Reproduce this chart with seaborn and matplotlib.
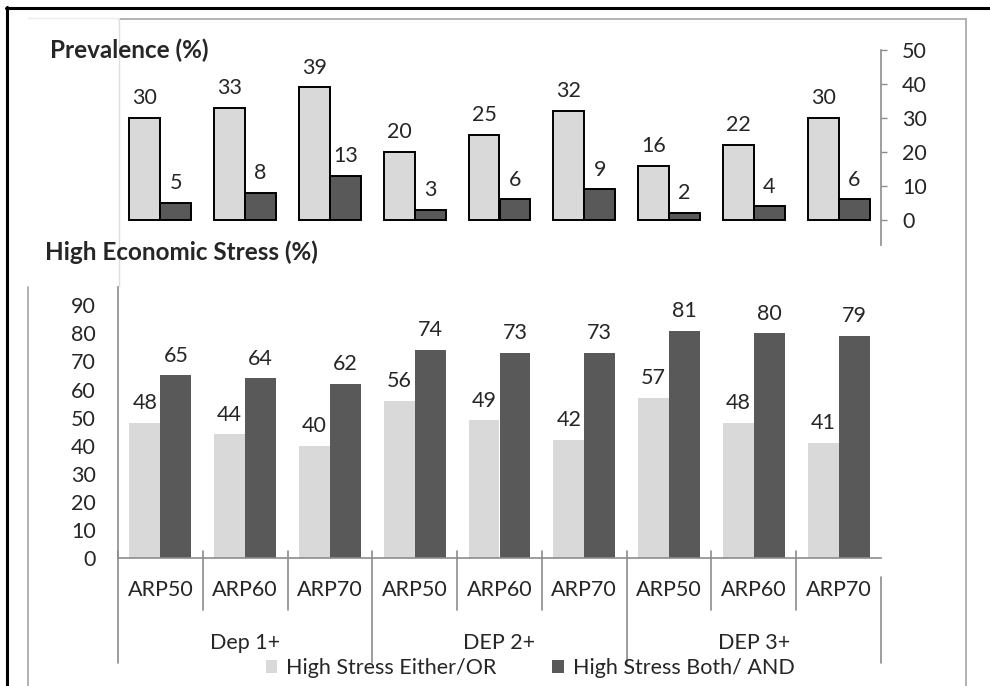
import matplotlib
matplotlib.use('Agg')
import matplotlib.pyplot as plt
import matplotlib.transforms as mtransforms
from matplotlib.lines import Line2D
import pandas as pd
import seaborn as sns

groups = ['Dep 1+', 'DEP 2+', 'DEP 3+']
thresholds = ['ARP50', 'ARP60', 'ARP70']
series = ['High Stress Either/OR', 'High Stress Both/ AND']

prev_either = [30, 33, 39, 20, 25, 32, 16, 22, 30]
prev_both = [5, 8, 13, 3, 6, 9, 2, 4, 6]
stress_either = [48, 44, 40, 56, 49, 42, 57, 48, 41]
stress_both = [65, 64, 62, 74, 73, 73, 81, 80, 79]

light = '#d9d9d9'
dark = '#595959'
axis_gray = '#8c8c8c'
fs = 15.5

sns.set_style('white')
plt.rcParams['font.family'] = ['Lato', 'DejaVu Sans']

cats = [f'{g}|{t}' for g in groups for t in thresholds]


def make_df(either, both):
    rows = []
    for c, a, b in zip(cats, either, both):
        rows.append({'cat': c, 'series': series[0], 'value': a})
        rows.append({'cat': c, 'series': series[1], 'value': b})
    return pd.DataFrame(rows)


prev_df = make_df(prev_either, prev_both)
stress_df = make_df(stress_either, stress_both)

W, H = 990, 686
fig = plt.figure(figsize=(W / 100, H / 100), dpi=100)


def fx(px):
    return px / W


def fy(py):
    return 1 - py / H


# axes placement (pixels from the reference)
ax_left, ax_right = 118, 881
top_y0, top_y1 = 50, 245      # 50 -> top, 245 -> lower end of right axis
bot_y0, bot_y1 = 287, 558

ax_top = fig.add_axes([fx(ax_left), fy(top_y1), fx(ax_right - ax_left), (top_y1 - top_y0) / H])
ax_bot = fig.add_axes([fx(ax_left), fy(bot_y1), fx(ax_right - ax_left), (bot_y1 - bot_y0) / H])

# ---- top panel: prevalence
sns.barplot(data=prev_df, x='cat', y='value', hue='series', order=cats, hue_order=series,
            palette=[light, dark], saturation=1, width=0.73, edgecolor='black',
            linewidth=1.4, legend=False, ax=ax_top)
ax_top.set_xlim(-0.5, 8.5)
ax_top.set_ylim(-7.4, 50)
ax_top.set_xlabel('')
ax_top.set_ylabel('')
ax_top.set_xticks([])
ax_top.yaxis.tick_right()
ax_top.set_yticks(range(0, 51, 10))
ax_top.tick_params(axis='y', direction='out', length=4.3, width=1, color=axis_gray,
                   labelsize=fs, pad=11)
for s in ['left', 'top', 'bottom']:
    ax_top.spines[s].set_visible(False)
ax_top.spines['right'].set_color(axis_gray)
ax_top.spines['right'].set_linewidth(1.2)
ax_top.patch.set_alpha(0)
for cont in ax_top.containers:
    ax_top.bar_label(cont, fmt='%d', padding=7, fontsize=fs)

# ---- bottom panel: high economic stress
sns.barplot(data=stress_df, x='cat', y='value', hue='series', order=cats, hue_order=series,
            palette=[light, dark], saturation=1, width=0.73, linewidth=0, ax=ax_bot)
handles, labels = ax_bot.get_legend_handles_labels()
ax_bot.get_legend().remove()
ax_bot.set_xlim(-0.5, 8.5)
ax_bot.set_ylim(0, 96.5)
ax_bot.set_xlabel('')
ax_bot.set_ylabel('')
ax_bot.set_xticks([])
ax_bot.set_yticks(range(0, 91, 10))
ax_bot.tick_params(axis='y', direction='out', length=4.3, width=1, color=axis_gray,
                   labelsize=fs, pad=11.5)
for s in ['right', 'top']:
    ax_bot.spines[s].set_visible(False)
for s in ['left', 'bottom']:
    ax_bot.spines[s].set_color(axis_gray)
    ax_bot.spines[s].set_linewidth(1.2)
ax_bot.patch.set_alpha(0)
for cont in ax_bot.containers:
    ax_bot.bar_label(cont, fmt='%d', padding=7, fontsize=fs)

# multi-level category axis
bh = bot_y1 - bot_y0
trans = mtransforms.blended_transform_factory(ax_bot.transData, ax_bot.transAxes)
for i in range(len(cats) + 1):
    xb = i - 0.5
    top = 7 / bh
    if i == len(cats):
        top = -19 / bh
    bottom = -105 / bh if i % 3 == 0 else -52 / bh
    ax_bot.add_line(Line2D([xb, xb], [top, bottom], transform=trans, color=axis_gray,
                           lw=1.2, clip_on=False))
for i, c in enumerate(cats):
    ax_bot.text(i, -32 / bh, c.split('|')[1], transform=trans, ha='center', va='center',
                fontsize=fs)
for j, g in enumerate(groups):
    ax_bot.text(3 * j + 1, -85 / bh, g, transform=trans, ha='center', va='center',
                fontsize=fs)

fig.legend(handles, labels, loc='center', bbox_to_anchor=(fx(530), fy(668)), ncol=2,
           frameon=False, fontsize=fs, handlelength=0.55, handleheight=0.55,
           handletextpad=0.4, columnspacing=2.6, borderpad=0)

# titles
fig.text(fx(50), fy(50), 'Prevalence (%)', fontsize=17.5, fontweight='bold', va='center')
fig.text(fx(45), fy(252), 'High Economic Stress (%)', fontsize=17.5, fontweight='bold',
         va='center')

# chart-area boxes and outer frame
def fig_line(xs, ys, color, lw):
    fig.add_artist(Line2D([fx(x) for x in xs], [fy(y) for y in ys], color=color, lw=lw))


fig_line([119, 966], [19, 19], '#a6a6a6', 1.2)
fig_line([28, 119], [18, 18], '#ececec', 1.0)
fig_line([966, 966], [19, 686], '#a6a6a6', 1.2)
fig_line([119, 119], [19, 286], '#dedede', 1.0)
fig_line([28, 28], [287, 686], '#a6a6a6', 1.2)
fig_line([6, 990], [8, 8], 'black', 2.2)
fig_line([7, 7], [7, 686], 'black', 2.2)

fig.savefig('out.png', dpi=100)
